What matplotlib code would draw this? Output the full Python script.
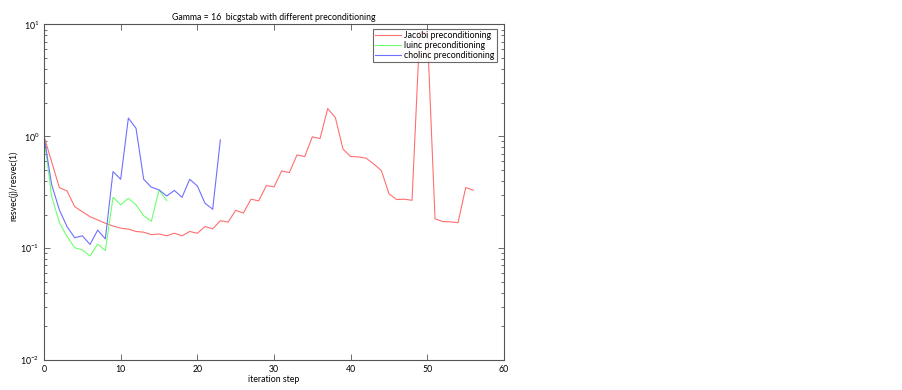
import matplotlib
matplotlib.use("Agg")
import matplotlib.pyplot as plt
from matplotlib.ticker import LogLocator, NullFormatter

plt.rcParams['font.family'] = ['Lato', 'DejaVu Sans']
plt.rcParams['mathtext.fontset'] = 'custom'
plt.rcParams['mathtext.rm'] = 'Lato'
plt.rcParams['mathtext.it'] = 'Lato:italic'
plt.rcParams['axes.unicode_minus'] = True

title = "Gamma = 16  bicgstab with different preconditioning"
xlabel = "iteration step"
ylabel = "resvec(j)/resvec(1)"
labels = ["Jacobi preconditioning", "luinc preconditioning", "cholinc preconditioning"]

jacobi = [1.0, 0.59, 0.348, 0.325, 0.235, 0.212, 0.191, 0.179, 0.167, 0.158,
          0.151, 0.148, 0.141, 0.139, 0.132, 0.134, 0.129, 0.136, 0.129, 0.141,
          0.136, 0.156, 0.149, 0.176, 0.171, 0.218, 0.206, 0.274, 0.265, 0.363,
          0.353, 0.491, 0.474, 0.683, 0.659, 0.99, 0.955, 1.77, 1.47, 0.768,
          0.659, 0.655, 0.638, 0.567, 0.494, 0.306, 0.272, 0.274, 0.268, 8.5,
          8.5, 0.183, 0.173, 0.172, 0.169, 0.348, 0.33]
luinc = [1.0, 0.289, 0.17, 0.127, 0.101, 0.0964, 0.0852, 0.109, 0.095, 0.285,
         0.244, 0.279, 0.244, 0.195, 0.174, 0.332, 0.266]
cholinc = [1.0, 0.37, 0.22, 0.156, 0.124, 0.129, 0.108, 0.145, 0.121, 0.484,
           0.413, 1.456, 1.18, 0.413, 0.351, 0.332, 0.293, 0.328, 0.285, 0.413,
           0.36, 0.252, 0.223, 0.93]
colors = ['#ff6f6f', '#6fff6f', '#6f6fff']

fs = 6.3

fig = plt.figure(figsize=(9.02, 3.9), dpi=100)
ax = fig.add_axes([0.0488, 0.0769, 0.51, 0.8603])

for series, c, lab in zip([jacobi, luinc, cholinc], colors, labels):
    ax.plot(range(len(series)), series, color=c, lw=0.8, label=lab)

ax.set_yscale('log')
ax.set_xlim(0, 60)
ax.set_ylim(1e-2, 1e1)
ax.set_xticks(range(0, 61, 10))
ax.yaxis.set_major_locator(LogLocator(base=10, numticks=10))
ax.yaxis.set_minor_locator(LogLocator(base=10, subs=range(2, 10), numticks=20))
ax.yaxis.set_minor_formatter(NullFormatter())

spine_c = '#555555'
for s in ax.spines.values():
    s.set_color(spine_c)
    s.set_linewidth(0.8)
ax.tick_params(which='both', direction='in', top=True, right=True, colors=spine_c,
               labelcolor='black', labelsize=fs, width=0.6)
ax.tick_params(which='major', length=4)
ax.tick_params(which='minor', length=2)

ax.set_title(title, fontsize=fs, pad=3.5)
ax.set_xlabel(xlabel, fontsize=fs, labelpad=1)
ax.set_ylabel(ylabel, fontsize=fs)
ax.yaxis.set_label_coords(-0.055, 0.52)

leg = ax.legend(loc='upper right', fontsize=fs, frameon=True, fancybox=False,
                bbox_to_anchor=(1 - 7 / 460, 1 - 4.5 / 335.5), borderaxespad=0,
                handlelength=2.9, handletextpad=0.45,
                labelspacing=0.12, borderpad=0.25)
leg.get_frame().set_edgecolor('#444444')
leg.get_frame().set_linewidth(0.8)

fig.savefig('out.png', dpi=100)
